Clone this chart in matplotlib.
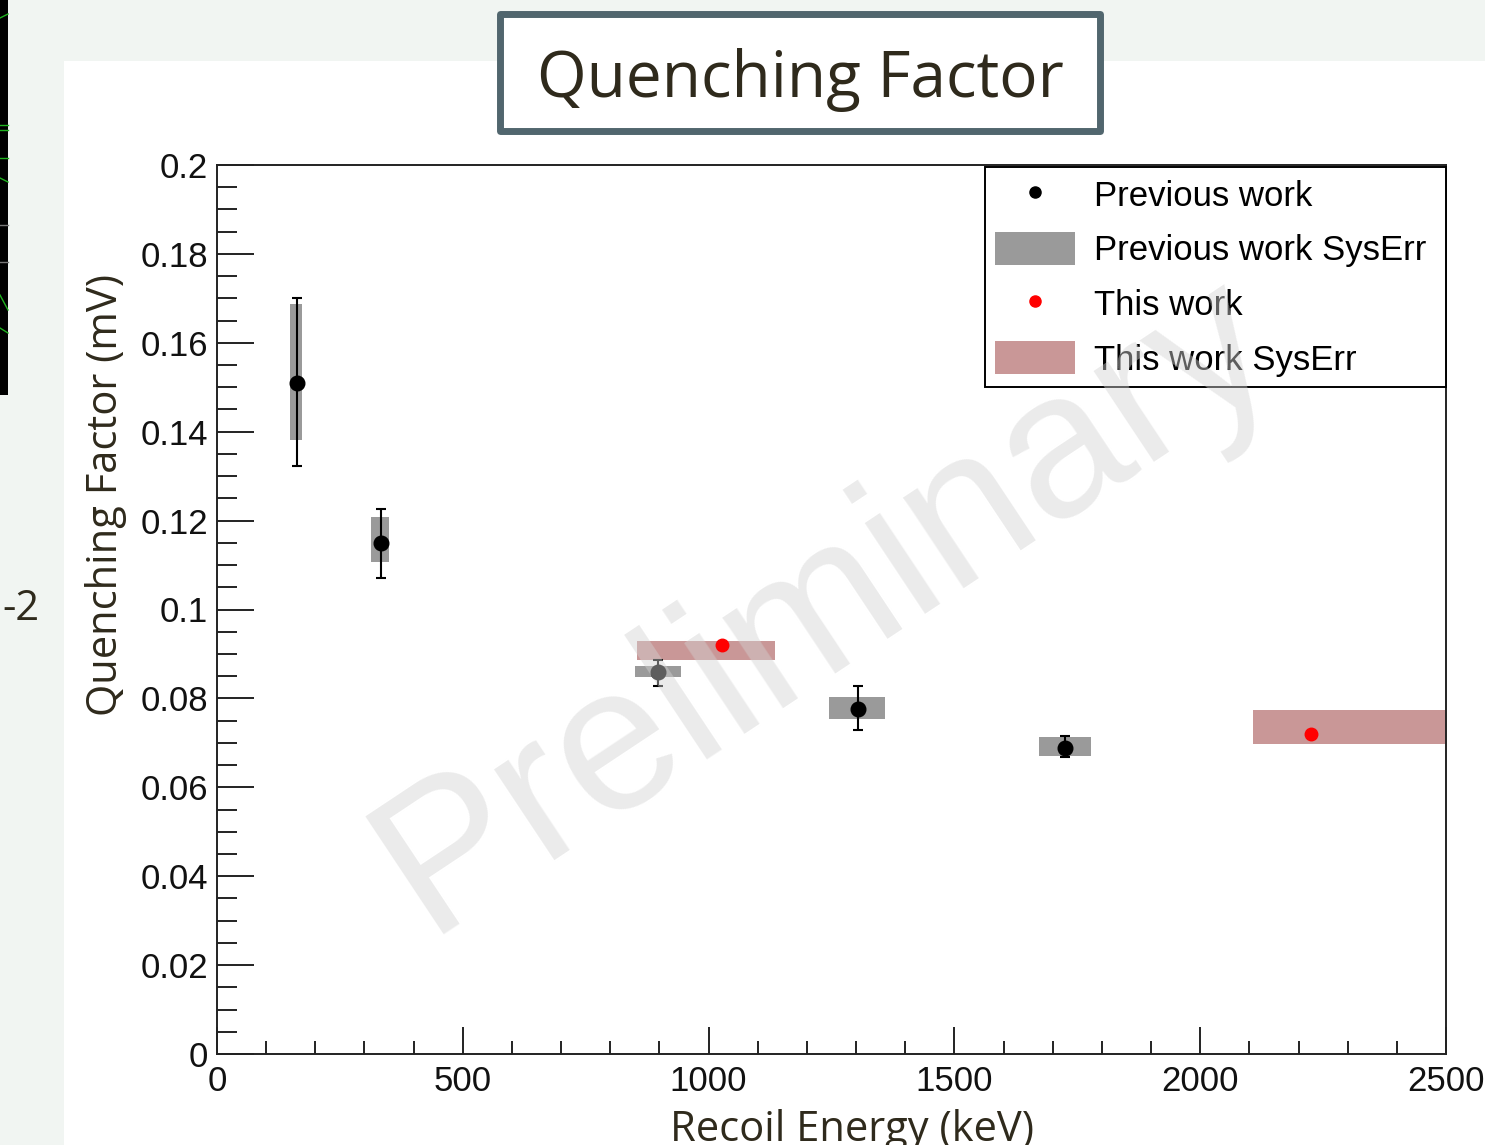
import matplotlib
matplotlib.use("Agg")
import matplotlib.pyplot as plt
from matplotlib.patches import Rectangle, Patch
from matplotlib.lines import Line2D
from matplotlib.ticker import MultipleLocator, FixedLocator, FuncFormatter
import numpy as np

W, H = 1485, 1145
DPI = 100

# ---------------- data ----------------
prev_energy = [163, 334, 897, 1304, 1725]
prev_qf = [0.151, 0.115, 0.0859, 0.0776, 0.0688]
prev_stat_lo = [0.0187, 0.0079, 0.0031, 0.0047, 0.0020]
prev_stat_hi = [0.0191, 0.0076, 0.0027, 0.0052, 0.0028]
prev_sys_x_lo = [149, 314, 850, 1245, 1672]
prev_sys_x_hi = [173, 350, 944, 1359, 1778]
prev_sys_y_lo = [0.1381, 0.1107, 0.0848, 0.0754, 0.0670]
prev_sys_y_hi = [0.1687, 0.1208, 0.0873, 0.0803, 0.0713]

this_energy = [1027, 2225]
this_qf = [0.0920, 0.0720]
this_sys_x_lo = [854, 2107]
this_sys_x_hi = [1135, 2560]
this_sys_y_lo = [0.0886, 0.0697]
this_sys_y_hi = [0.0929, 0.0774]

x_ticks = [0, 500, 1000, 1500, 2000, 2500]
y_ticks = [0, 0.02, 0.04, 0.06, 0.08, 0.1, 0.12, 0.14, 0.16, 0.18, 0.2]

legend_labels = ["Previous work", "Previous work SysErr", "This work", "This work SysErr"]

GREY = "#9a9a9a"
ROSE = "#c99797"
TXT = "#2f2a1c"


def fx(px):
    return px / W


def fy(py):
    return 1 - py / H


fig = plt.figure(figsize=(W / DPI, H / DPI), dpi=DPI)
fig.patch.set_facecolor("#f1f5f2")

# white ROOT canvas on the slide
fig.add_artist(Rectangle((fx(64), 0), 1 - fx(64), fy(61), transform=fig.transFigure,
                         facecolor="white", edgecolor="none", zorder=-10))
# black strip of the neighbouring image at the far left
fig.add_artist(Rectangle((0, fy(395)), fx(8), 395 / H, transform=fig.transFigure,
                         facecolor="black", edgecolor="none", zorder=-9))
for (x0, y0, x1, y1, c) in [(0, 18, 8, 14, "#1fb31f"), (0, 125, 8, 125, "#1fb31f"),
                            (0, 130, 8, 130, "#1fb31f"), (0, 158, 8, 158, "#1fb31f"),
                            (0, 178, 8, 182, "#1fb31f"), (0, 225, 8, 225, "#777777"),
                            (0, 262, 8, 262, "#777777"), (0, 295, 8, 310, "#1fb31f"),
                            (0, 328, 8, 333, "#1fb31f")]:
    fig.add_artist(Line2D([fx(x0), fx(x1)], [fy(y0), fy(y1)], transform=fig.transFigure,
                          color=c, lw=1.0, zorder=-8))

ax = fig.add_axes([fx(217), fy(1054), (1446 - 217) / W, (1054 - 165) / H])
ax.set_facecolor("white")

# systematic boxes
ax.bar(prev_sys_x_lo, np.subtract(prev_sys_y_hi, prev_sys_y_lo),
       width=np.subtract(prev_sys_x_hi, prev_sys_x_lo), bottom=prev_sys_y_lo,
       align="edge", color=GREY, edgecolor="none", zorder=2)
ax.bar(this_sys_x_lo, np.subtract(this_sys_y_hi, this_sys_y_lo),
       width=np.subtract(this_sys_x_hi, this_sys_x_lo), bottom=this_sys_y_lo,
       align="edge", color=ROSE, edgecolor="none", zorder=2)

# points
ax.errorbar(prev_energy, prev_qf, yerr=[prev_stat_lo, prev_stat_hi], fmt="o",
            color="black", ms=10.5, elinewidth=1.5, capsize=3.8, capthick=1.5, zorder=3)
ax.plot(this_energy, this_qf, "o", color="red", ms=9, zorder=4)

ax.set_xlim(0, 2500)
ax.set_ylim(0, 0.2)
ax.xaxis.set_major_locator(FixedLocator(x_ticks))
ax.yaxis.set_major_locator(FixedLocator(y_ticks))
ax.xaxis.set_minor_locator(MultipleLocator(100))
ax.yaxis.set_minor_locator(MultipleLocator(0.005))
ax.xaxis.set_major_formatter(FuncFormatter(lambda v, p: f"{v:g}"))
ax.yaxis.set_major_formatter(FuncFormatter(lambda v, p: f"{v:g}"))

ax.tick_params(which="both", direction="in", top=False, right=False, width=1.4, color="#222222")
ax.tick_params(axis="x", which="major", length=19.4, pad=8)
ax.tick_params(axis="x", which="minor", length=9.4)
ax.tick_params(axis="y", which="major", length=26.6, pad=6.5)
ax.tick_params(axis="y", which="minor", length=14.4)
for lab in ax.get_xticklabels():
    lab.set_fontfamily("Liberation Sans")
    lab.set_fontsize(25)
    lab.set_color("#111111")
for lab in ax.get_yticklabels():
    lab.set_fontfamily("Liberation Sans")
    lab.set_fontsize(25)
    lab.set_color("#111111")
for sp in ax.spines.values():
    sp.set_linewidth(1.4)
    sp.set_color("#222222")

# legend
handles = [Line2D([], [], marker="o", ls="none", color="black", ms=8),
           Patch(facecolor=GREY, edgecolor="none"),
           Line2D([], [], marker="o", ls="none", color="red", ms=8),
           Patch(facecolor=ROSE, edgecolor="none")]
leg = ax.legend(handles, legend_labels, loc="upper left",
                bbox_to_anchor=(fx(985), fy(386), (1446 - 985) / W, (386 - 167) / H),
                bbox_transform=fig.transFigure, mode="expand",
                prop={"family": "Liberation Sans", "size": 25}, frameon=True,
                fancybox=False, edgecolor="black", framealpha=1, facecolor="white",
                borderpad=0.3, handlelength=2.3, handleheight=1.1, handletextpad=0.55,
                labelspacing=0.55, borderaxespad=0)
leg.get_frame().set_linewidth(1.4)

# axis titles (slide font)
fig.text(fx(852), fy(1141), "Recoil Energy (keV)", family="Open Sans", fontsize=30,
         color=TXT, ha="center", va="baseline")
fig.text(fx(117), fy(495), "Quenching Factor (mV)", family="Open Sans", fontsize=30,
         color=TXT, ha="center", va="baseline", rotation=90, rotation_mode="anchor")
fig.text(fx(39), fy(620), "-2", family="Open Sans", fontsize=30, color=TXT,
         ha="right", va="baseline")

# title box
fig.add_artist(Rectangle((fx(500), fy(131)), (1100 - 500) / W, (131 - 14) / H,
                         transform=fig.transFigure, facecolor="white",
                         edgecolor="#51666e", lw=5, joinstyle="round", zorder=5))
fig.text(fx(800), fy(97), "Quenching Factor", family="Open Sans", fontsize=46,
         color=TXT, ha="center", va="baseline", zorder=6)

# watermark
fig.text(fx(825), fy(606), "Preliminary", family="Liberation Sans", fontsize=148,
         color="#d3d3d3", alpha=0.45, ha="center", va="center", rotation=33.6,
         rotation_mode="anchor", zorder=10)

fig.savefig("out.png", dpi=DPI, facecolor=fig.get_facecolor())
